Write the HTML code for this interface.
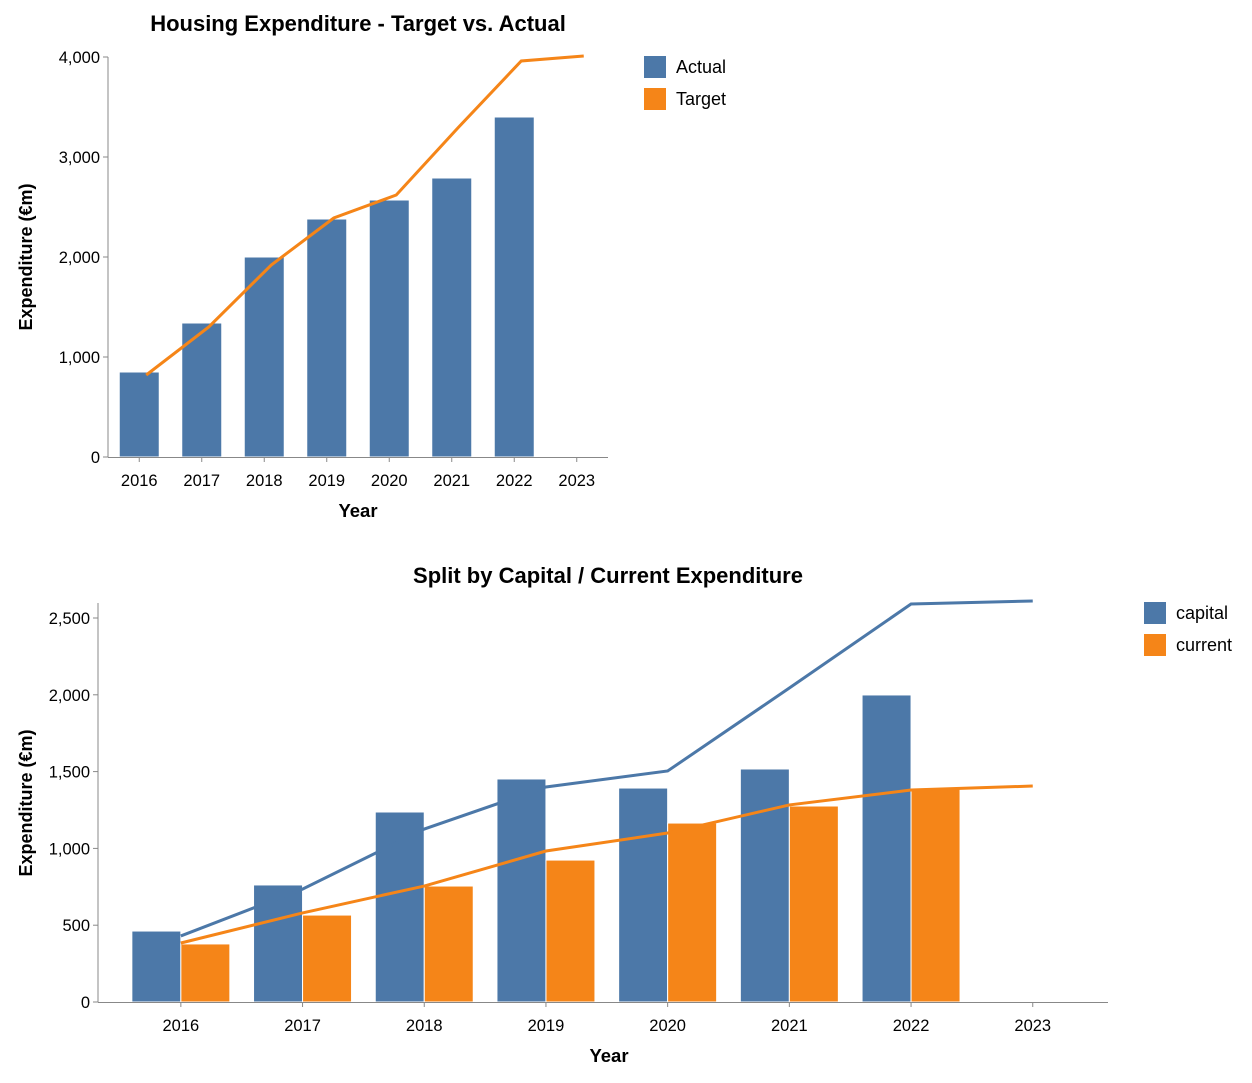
<!DOCTYPE html>
<html><head><meta charset="utf-8"><style>
body{margin:0;background:#fff;font-family:"Liberation Sans",Arial,sans-serif;}
svg text{font-family:"Liberation Sans",Arial,sans-serif;}
</style></head><body>
<svg id="c" width="1252" height="1078"></svg>
<script>
const years=["2016","2017","2018","2019","2020","2021","2022","2023"];
const actual=[850,1340,2000,2380,2570,2790,3400,null];
const target=[820,1300,1920,2390,2620,3300,3960,4010];
const capitalBars=[462,762,1237,1452,1393,1517,1999,null];
const currentBars=[378,566,755,924,1165,1276,1393,null];
const capitalLine=[430,735,1126,1400,1504,2044,2591,2611];
const currentLine=[384,580,755,983,1100,1283,1380,1406];
const topTicks=[0,1000,2000,3000,4000];
const botTicks=[0,500,1000,1500,2000,2500];
const BLUE="#4c78a8",ORANGE="#f58518";
const svg=document.getElementById('c');
const NS="http://www.w3.org/2000/svg";
function el(tag,a,parent){const e=document.createElementNS(NS,tag);for(const k in a)e.setAttribute(k,a[k]);(parent||svg).appendChild(e);return e;}
function txt(s,a,p){const t=el('text',a,p);t.textContent=s;return t;}
function fmt(v){return v.toLocaleString('en-US');}

function chart(cfg){
  const g=el('g',{});
  
  
  const y=v=>cfg.y0-(v/cfg.ymax)*(cfg.y0-cfg.y1);
  const xc=i=>cfg.xs+cfg.step*(i+0.5);
  cfg.ticks.forEach(t=>{
    const l=el('line',{x1:cfg.ax0-5,x2:cfg.ax0,y1:y(t),y2:y(t),stroke:'#888'},g);
    
    const tt=txt(fmt(t),{x:cfg.ax0-8,y:y(t)+6,'text-anchor':'end','font-size':16.5,fill:'#000'},g);
    
  });
  const ya=el('line',{x1:cfg.ax0,x2:cfg.ax0,y1:cfg.y0,y2:cfg.yTop,stroke:'#888'},g);
  
  const yt=txt('Expenditure (€m)',{transform:`translate(32,${cfg.yTitleY}) rotate(-90)`,'text-anchor':'middle','font-size':18,'font-weight':'bold'},g);
  
  cfg.bars.forEach(b=>{
    b.data.forEach((v,i)=>{
      if(v==null)return;
      const r=el('rect',{x:xc(i)+b.off,y:y(v),width:b.w,height:cfg.y0-y(v),fill:b.color,stroke:'#fff','stroke-width':1},g);
      
    });
  });
  cfg.lines.forEach(L=>{
    const d=L.data.map((v,i)=>(i?'L':'M')+(xc(i)+cfg.lineOff)+','+y(v)).join('');
    const p=el('path',{d,fill:'none',stroke:L.color,'stroke-width':3},g);
    
  });
  const xa=el('line',{x1:cfg.ax0,x2:cfg.ax1,y1:cfg.y0+0.5,y2:cfg.y0+0.5,stroke:'#888'},g);
  
  years.forEach((yr,i)=>{
    const l=el('line',{x1:xc(i),x2:xc(i),y1:cfg.y0,y2:cfg.y0+5,stroke:'#888'},g);
    
    const t=txt(yr,{x:xc(i),y:cfg.y0+29,'text-anchor':'middle','font-size':16.5},g);
    
  });
  const xt=txt('Year',{x:cfg.xTitleX,y:cfg.y0+60,'text-anchor':'middle','font-size':18.5,'font-weight':'bold'},g);
  
  const ti=txt(cfg.title,{x:cfg.titleX,y:cfg.titleY,'text-anchor':'middle','font-size':22,'font-weight':'bold'},g);
  
  cfg.legend.forEach((L,i)=>{
    const r=el('rect',{x:cfg.legX,y:cfg.legY+i*32,width:22,height:22,fill:L.color},g);
    
    const t=txt(L.label,{x:cfg.legX+32,y:cfg.legY+i*32+17,'font-size':18},g);
    
  });
}
chart({name:'top-chart',y0:457,y1:57,yTop:57,yTitleY:257,ymax:4000,ax0:108,ax1:608,xs:108,step:62.5,ticks:topTicks,
  bars:[{key:'actual',data:actual,off:-20,w:40,color:BLUE}],
  lines:[{key:'target',data:target,color:ORANGE}],lineOff:7,
  xTitleX:358,title:'Housing Expenditure - Target vs. Actual',titleX:358,titleY:31,
  legend:[{label:'Actual',color:BLUE},{label:'Target',color:ORANGE}],legX:644,legY:56});
chart({name:'bottom-chart',y0:1002,y1:618,yTop:603,yTitleY:803,ymax:2500,ax0:98,ax1:1108,xs:120,step:121.7,ticks:botTicks,
  bars:[{key:'capital',data:capitalBars,off:-49,w:49,color:BLUE},{key:'current',data:currentBars,off:0,w:49,color:ORANGE}],
  lines:[{key:'capital',data:capitalLine,color:BLUE},{key:'current',data:currentLine,color:ORANGE}],lineOff:0,
  xTitleX:609,title:'Split by Capital / Current Expenditure',titleX:608,titleY:583,
  legend:[{label:'capital',color:BLUE},{label:'current',color:ORANGE}],legX:1144,legY:602});
</script>
</body></html>
